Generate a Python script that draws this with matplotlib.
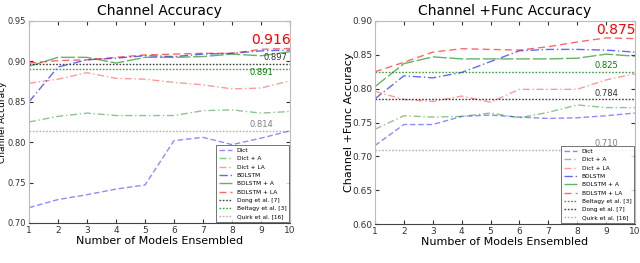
import matplotlib
matplotlib.use("Agg")
import matplotlib.pyplot as plt
import numpy as np

x = list(range(1, 11))

# Left: Channel Accuracy
ch_dict = [0.719, 0.729, 0.735, 0.742, 0.747, 0.802, 0.806, 0.797, 0.805, 0.814]
ch_dict_a = [0.825, 0.832, 0.836, 0.833, 0.833, 0.833, 0.839, 0.840, 0.836, 0.838]
ch_dict_la = [0.873, 0.878, 0.886, 0.879, 0.878, 0.874, 0.871, 0.866, 0.867, 0.876]
ch_bdlstm = [0.850, 0.893, 0.902, 0.904, 0.907, 0.906, 0.909, 0.910, 0.913, 0.914]
ch_bdlstm_a = [0.894, 0.905, 0.905, 0.898, 0.905, 0.905, 0.906, 0.909, 0.907, 0.912]
ch_bdlstm_la = [0.898, 0.901, 0.902, 0.905, 0.908, 0.909, 0.910, 0.910, 0.915, 0.916]
ch_dong = 0.897
ch_beltagy = 0.891
ch_quirk = 0.814
ch_best = 0.916

# Right: Channel +Func Accuracy
cf_dict = [0.716, 0.747, 0.747, 0.759, 0.761, 0.758, 0.756, 0.757, 0.760, 0.764]
cf_dict_a = [0.740, 0.760, 0.758, 0.759, 0.764, 0.757, 0.765, 0.776, 0.772, 0.772]
cf_dict_la = [0.796, 0.784, 0.781, 0.789, 0.780, 0.799, 0.799, 0.799, 0.813, 0.822]
cf_bdlstm = [0.785, 0.819, 0.816, 0.824, 0.840, 0.856, 0.858, 0.858, 0.857, 0.854]
cf_bdlstm_a = [0.803, 0.837, 0.847, 0.844, 0.844, 0.844, 0.844, 0.845, 0.851, 0.848]
cf_bdlstm_la = [0.825, 0.839, 0.854, 0.859, 0.858, 0.857, 0.862, 0.869, 0.875, 0.874]
cf_dong = 0.784
cf_beltagy = 0.825
cf_quirk = 0.710
cf_best = 0.875

series_labels = ["Dict", "Dict + A", "Dict + LA", "BDLSTM", "BDLSTM + A", "BDLSTM + LA"]
colors = ["blue", "green", "red", "blue", "green", "red"]
styles = [(0, (4, 2)), (0, (5, 2, 1, 2)), (0, (5, 2, 1, 2)), (0, (6, 2, 1, 2)), (0, (10, 2)), (0, (5, 3))]
alphas = [0.45, 0.45, 0.4, 0.6, 0.6, 0.6]

fig = plt.figure(figsize=(6.4, 2.63), dpi=100)
ax1 = fig.add_axes([29/640, 1-223/263, 261/640, 202/263])
ax2 = fig.add_axes([375/640, 1-224/263, 260/640, 203/263])


def draw(ax, data, refs, best, ylim, yticks, title, ylabel, ref_labels_pos, label_x, label_fs, tick_fs):
    for d, lab, c, ls, a in zip(data, series_labels, colors, styles, alphas):
        ax.plot(x, d, color=c, linestyle=ls, alpha=a, lw=1.0, label=lab)
    for (val, lab, c) in refs:
        ax.axhline(val, color=c, linestyle=(0, (1.2, 1.2)), lw=1.0, alpha=0.75 if c != 'grey' else 0.6,
                   label=lab)
    ax.set_xlim(1, 10)
    ax.set_ylim(*ylim)
    ax.set_yticks(yticks)
    ax.set_yticklabels([f"{t:.2f}" for t in yticks])
    ax.set_xticks(x)
    ax.tick_params(direction='in', top=True, right=True, labelsize=6.5, length=3, pad=2, colors='#333333')
    ax.tick_params(axis='y', labelsize=tick_fs)
    for s in ['left', 'top', 'right']:
        ax.spines[s].set_color('#bbbbbb')
    ax.spines['bottom'].set_color('#444444')
    ax.set_title(title, fontsize=10, pad=4)
    ax.set_ylabel(ylabel, fontsize=label_fs)
    ax.yaxis.set_label_coords(label_x, 0.5)
    ax.set_xlabel("Number of Models Ensembled", fontsize=8, labelpad=1)
    for (val, txt, c, xp) in ref_labels_pos:
        ax.text(xp, val + 0.002, txt, color=c, fontsize=6, ha='center', va='bottom')
    ax.text(9.35, best + 0.002, f"{best:.3f}", color='red', fontsize=10, ha='center', va='bottom')
    return ax


draw(ax1, [ch_dict, ch_dict_a, ch_dict_la, ch_bdlstm, ch_bdlstm_a, ch_bdlstm_la],
     [(ch_dong, "Dong et al. [7]", 'black'), (ch_beltagy, "Beltagy et al. [3]", 'green'),
      (ch_quirk, "Quirk et al. [16]", 'grey')],
     ch_best, (0.70, 0.95), [0.70, 0.75, 0.80, 0.85, 0.90, 0.95],
     "Channel Accuracy", "Channel Accuracy",
     [(ch_dong, "0.897", '#333333', 9.5), (ch_beltagy - 0.012, "0.891", 'green', 9.0),
      (ch_quirk, "0.814", 'grey', 9.0)], -0.084, 6.5, 6.0)
leg1 = ax1.legend(loc='lower right', fontsize=4.2, frameon=True, fancybox=False, handlelength=2.2,
                  borderaxespad=0.1, labelspacing=0.55, borderpad=0.5)
leg1.get_frame().set_edgecolor('#333333')
leg1.get_frame().set_linewidth(0.6)

draw(ax2, [cf_dict, cf_dict_a, cf_dict_la, cf_bdlstm, cf_bdlstm_a, cf_bdlstm_la],
     [(cf_beltagy, "Beltagy et al. [3]", 'green'), (cf_dong, "Dong et al. [7]", 'black'),
      (cf_quirk, "Quirk et al. [16]", 'grey')],
     cf_best, (0.60, 0.90), [0.60, 0.65, 0.70, 0.75, 0.80, 0.85, 0.90],
     "Channel +Func Accuracy", "Channel +Func Accuracy",
     [(cf_beltagy, "0.825", 'green', 9.0), (cf_dong, "0.784", '#333333', 9.0),
      (cf_quirk, "0.710", 'grey', 9.0)], -0.082, 8, 6.5)
leg2 = ax2.legend(loc='lower right', fontsize=4.2, frameon=True, fancybox=False, handlelength=2.2,
                  borderaxespad=0.1, labelspacing=0.55, borderpad=0.5)
leg2.get_frame().set_edgecolor('#333333')
leg2.get_frame().set_linewidth(0.6)

fig.savefig("out.png", dpi=100)
